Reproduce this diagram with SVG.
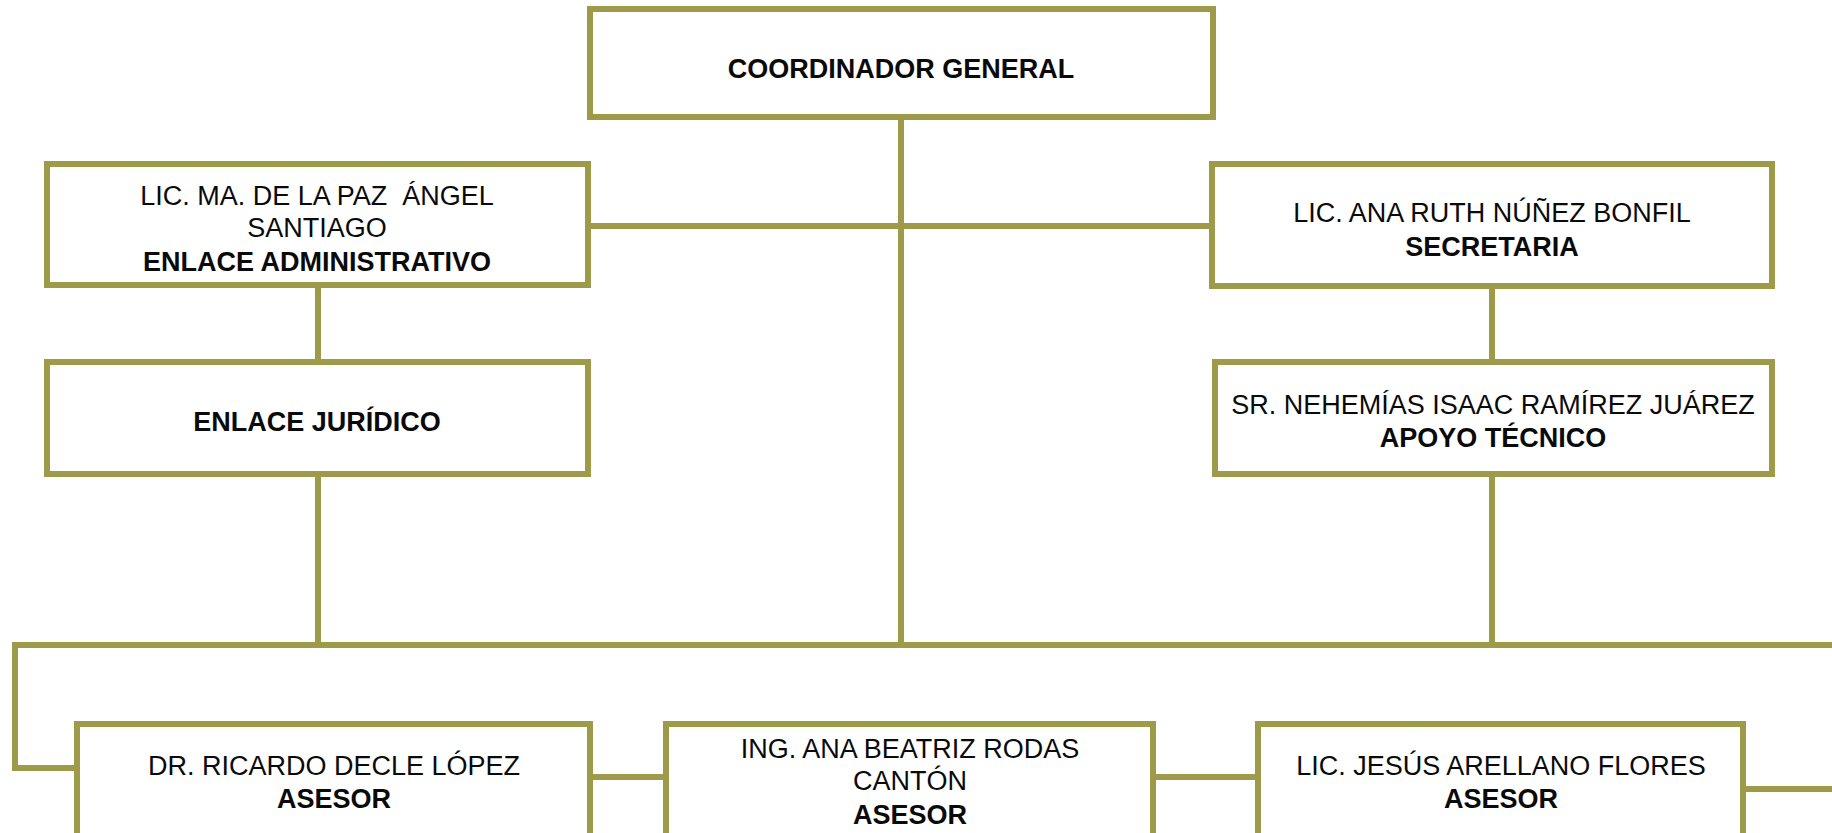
<svg xmlns="http://www.w3.org/2000/svg" width="1832" height="833" viewBox="0 0 1832 833">
<style>
.box{fill:#ffffff;stroke:#9d9b4a;stroke-width:6}
.ln{fill:none;stroke:#9d9b4a;stroke-width:6}
text{font-family:"Liberation Sans",Arial,sans-serif;font-size:27px;fill:#0a0a0a;text-anchor:middle}
.b{font-weight:bold}
</style>
<rect width="1832" height="833" fill="#ffffff"/>
<g id="connectors">
<line class="ln" x1="901" y1="117" x2="901" y2="648"/>
<line class="ln" x1="588" y1="226" x2="1212" y2="226"/>
<line class="ln" x1="318" y1="285" x2="318" y2="362"/>
<line class="ln" x1="318" y1="474" x2="318" y2="648"/>
<line class="ln" x1="1492" y1="286" x2="1492" y2="362"/>
<line class="ln" x1="1492" y1="474" x2="1492" y2="648"/>
<polyline class="ln" points="1832,645 15,645 15,768 77,768"/>
<line class="ln" x1="590" y1="777" x2="666" y2="777"/>
<line class="ln" x1="1153" y1="777" x2="1258" y2="777"/>
<line class="ln" x1="1743" y1="789" x2="1832" y2="789"/>
</g>
<g id="coordinador">
<rect class="box" x="590" y="9" width="623" height="108"/>
<text class="b" x="901" y="78">COORDINADOR GENERAL</text>
</g>
<g id="enlace-administrativo">
<rect class="box" x="47" y="164" width="541" height="121"/>
<text x="317" y="205" xml:space="preserve">LIC. MA. DE LA PAZ  ÁNGEL</text>
<text x="317" y="237">SANTIAGO</text>
<text class="b" x="317" y="271">ENLACE ADMINISTRATIVO</text>
</g>
<g id="secretaria">
<rect class="box" x="1212" y="164" width="560" height="122"/>
<text x="1492" y="222">LIC. ANA RUTH NÚÑEZ BONFIL</text>
<text class="b" x="1492" y="256">SECRETARIA</text>
</g>
<g id="enlace-juridico">
<rect class="box" x="47" y="362" width="541" height="112"/>
<text class="b" x="317" y="431">ENLACE JURÍDICO</text>
</g>
<g id="apoyo-tecnico">
<rect class="box" x="1215" y="362" width="557" height="112"/>
<text x="1493" y="414">SR. NEHEMÍAS ISAAC RAMÍREZ JUÁREZ</text>
<text class="b" x="1493" y="447">APOYO TÉCNICO</text>
</g>
<g id="asesor-decle">
<rect class="box" x="77" y="724" width="513" height="120"/>
<text x="334" y="775">DR. RICARDO DECLE LÓPEZ</text>
<text class="b" x="334" y="808">ASESOR</text>
</g>
<g id="asesor-rodas">
<rect class="box" x="666" y="724" width="487" height="120"/>
<text x="910" y="758">ING. ANA BEATRIZ RODAS</text>
<text x="910" y="790">CANTÓN</text>
<text class="b" x="910" y="824">ASESOR</text>
</g>
<g id="asesor-arellano">
<rect class="box" x="1258" y="724" width="485" height="120"/>
<text x="1501" y="775">LIC. JESÚS ARELLANO FLORES</text>
<text class="b" x="1501" y="808">ASESOR</text>
</g>
</svg>
